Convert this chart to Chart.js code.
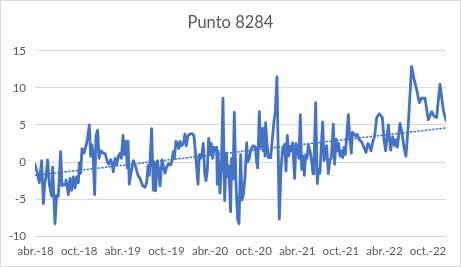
<!DOCTYPE html>
<html>
<head>
<meta charset="utf-8">
<script src="https://cdn.jsdelivr.net/npm/chart.js@4"></script>
<style>
  html, body { margin: 0; padding: 0; background: #fff; }
  #wrap { width: 461px; height: 267px; }
</style>
</head>
<body>
<div id="wrap"><canvas id="punto"></canvas></div>
<script>
// months counted from abr.-18
var months = [-0.09,0.23,0.50,0.69,0.83,1.06,1.24,1.42,1.65,1.88,2.20,2.34,2.66,2.89,3.12,3.44,3.62,3.81,4.04,4.17,
  4.36,4.50,4.72,4.95,5.18,5.41,5.64,5.87,6.01,6.19,6.38,6.65,6.93,7.11,7.39,7.57,7.75,7.89,8.12,8.30,
  8.53,8.72,8.94,9.31,9.59,9.86,10.05,10.32,10.50,10.69,10.92,11.15,11.38,11.61,11.79,12.02,12.20,12.43,12.61,12.71,
  12.89,13.07,13.44,13.72,14.08,14.36,14.72,15.05,15.28,15.46,15.64,15.96,16.19,16.33,16.51,16.74,16.93,17.11,17.39,17.57,
  17.80,18.03,18.30,18.58,18.76,18.94,19.08,19.31,19.50,19.68,19.86,20.09,20.32,20.55,20.73,20.96,21.24,21.61,21.79,22.06,
  22.34,22.52,22.71,22.89,23.07,23.26,23.44,23.62,23.81,23.99,24.17,24.36,24.54,24.72,24.91,25.00,25.09,25.37,25.55,25.78,
  26.01,26.24,26.42,26.56,26.83,26.97,27.16,27.34,27.57,27.80,27.98,28.21,28.39,28.58,28.81,29.04,29.17,29.40,29.59,29.77,
  29.95,30.23,30.41,30.55,30.78,30.96,31.15,31.33,31.47,31.56,31.65,31.79,32.02,32.34,32.61,32.80,32.98,33.21,33.53,33.76,
  33.99,34.27,34.45,34.63,34.82,35.00,35.18,35.37,35.64,35.83,36.06,36.24,36.42,36.61,36.79,36.97,37.16,37.34,37.52,37.75,
  37.98,38.17,38.30,38.53,38.76,38.94,39.13,39.27,39.50,39.68,39.86,40.05,40.28,40.50,40.69,40.96,41.15,41.33,41.51,41.70,
  41.88,42.06,42.25,42.43,42.61,42.80,43.03,43.21,43.44,43.58,43.81,44.04,44.27,44.54,44.86,45.18,45.46,45.73,45.92,46.15,
  46.38,46.65,46.93,47.29,47.71,47.94,48.17,48.53,48.85,49.13,49.40,49.59,49.77,50.14,50.37,50.69,50.96,51.28,51.51,51.74,
  52.11,52.43,52.80,53.12,53.58,54.04,54.50,54.82,55.18,55.64,56.10,56.47];

var values = [-0.3,-1.5,-2.8,-1.0,0.2,-5.6,-3.0,-2.0,0.3,-3.0,-4.6,-0.7,-8.3,-4.5,-4.6,1.4,-3.2,-3.0,-3.1,-2.4,
  -3.4,-4.4,-2.2,-3.8,-2.0,-3.5,-2.0,-2.8,-0.1,-1.5,1.8,1.2,2.2,3.0,5.0,0.8,2.3,1.2,-4.4,3.5,
  4.3,0.5,1.5,1.2,1.1,0.0,-0.3,0.3,-0.2,-1.3,0.5,-0.3,0.8,1.2,0.5,3.6,1.0,2.8,-0.8,2.8,
  -3.0,-1.8,0.2,-0.5,-1.8,-2.2,-3.2,-3.4,-2.8,-0.5,-1.8,4.5,-3.8,0.0,-3.9,0.2,-1.0,-3.2,0.3,-0.5,
  -1.5,-0.7,-0.2,-0.4,0.2,1.4,0.5,2.8,2.5,1.8,2.8,2.2,2.5,3.8,2.2,3.5,3.8,3.8,3.5,0.5,
  -3.0,1.0,0.5,1.2,2.5,-1.5,-2.5,-1.2,3.2,1.0,2.5,0.5,2.0,1.5,2.0,-3.0,1.5,-4.2,-1.0,8.6,
  -5.2,1.2,-2.0,-0.5,-6.7,0.5,-2.3,6.7,-3.0,-7.8,-8.3,1.0,-5.1,-4.5,-2.0,2.6,0.0,0.5,1.5,2.0,
  2.2,2.0,0.0,-0.8,6.8,2.0,4.5,1.5,4.6,0.8,5.3,3.0,0.6,0.6,3.5,5.5,6.8,11.5,-7.7,-1.0,
  1.8,2.4,-1.2,3.6,0.8,2.0,1.5,2.6,-2.2,2.5,1.5,0.5,6.4,-1.0,0.8,-1.8,1.0,0.5,2.3,1.5,
  0.2,-1.6,-0.5,8.0,-2.9,-1.0,-1.5,1.5,5.4,0.2,0.8,2.2,-1.6,0.3,0.5,5.1,-0.3,3.1,1.5,2.5,
  0.8,1.5,0.6,2.0,1.0,3.3,6.4,3.5,1.2,4.0,3.8,3.5,3.7,3.0,2.7,2.0,1.3,2.5,2.2,1.5,
  2.7,3.5,6.0,6.5,6.0,3.0,1.5,5.0,1.6,3.4,2.2,3.0,2.0,5.2,4.2,2.0,0.8,5.0,9.0,12.9,
  11.0,9.8,8.0,8.6,8.6,5.7,6.8,6.2,6.0,10.5,7.0,5.6];

// linear trend, ends
var trendMonths = [-0.09, 56.47];
var trendValues = [-1.8, 4.6];

var tickMonths = [0,6,12,18,24,30,36,42,48,54];
var tickLabels = ["abr.-18","oct.-18","abr.-19","oct.-19","abr.-20","oct.-20","abr.-21","oct.-21","abr.-22","oct.-22"];

var blue = "#4472C4";
var grey = "#595959";

var frame = {
  id: "frame",
  beforeDraw: function(chart){
    var c = chart.ctx;
    c.save();
    c.fillStyle = "#fff";
    c.fillRect(0,0,chart.width,chart.height);
    c.strokeStyle = "#d9d9d9";
    c.lineWidth = 1;
    c.strokeRect(0.5,0.5,chart.width-1,chart.height-1);
    c.restore();
  }
};

var pts = months.map(function(m,i){ return {x:m, y:values[i]}; });
var trendPts = trendMonths.map(function(m,i){ return {x:m, y:trendValues[i]}; });

new Chart(document.getElementById("punto"), {
  type: "line",
  data: {
    datasets: [{
      data: pts,
      borderColor: blue,
      borderWidth: 2.8,
      borderJoinStyle: "round",
      borderCapStyle: "round",
      pointRadius: 0,
      tension: 0,
      fill: false
    }, {
      data: trendPts,
      borderColor: blue,
      borderWidth: 1.5,
      borderDash: [2.5, 1.2],
      pointRadius: 0,
      fill: false
    }]
  },
  options: {
    responsive: true,
    maintainAspectRatio: false,
    animation: false,
    layout: { padding: { left: 0, right: 0, top: 0, bottom: 1 } },
    plugins: {
      legend: { display: false },
      tooltip: { enabled: false },
      title: {
        display: true,
        text: "Punto 8284",
        color: grey,
        font: { family: "Lato", size: 16.5, weight: "normal" },
        padding: { top: 13, bottom: 18 }
      }
    },
    scales: {
      x: {
        type: "linear",
        min: trendMonths[0],
        max: trendMonths[1],
        afterBuildTicks: function(s){ s.ticks = tickMonths.map(function(v){ return {value:v}; }); },
        grid: { display: false, drawTicks: false },
        border: { display: false },
        ticks: {
          autoSkip: false,
          maxRotation: 0,
          padding: 8,
          color: grey,
          font: { family: "Lato", size: 11.5 },
          callback: function(v, i){ return tickLabels[i]; }
        }
      },
      y: {
        min: -10,
        max: 15,
        afterFit: function(s){ s.width = 35; },
        grid: { color: "#d9d9d9", lineWidth: 1, drawTicks: false },
        border: { display: false },
        ticks: {
          stepSize: 5,
          padding: 9,
          color: grey,
          font: { family: "Lato", size: 11.5 }
        }
      },
      // empty right margin so the title centres on the whole picture
      pad: {
        position: "right",
        min: -10,
        max: 15,
        afterFit: function(s){ s.width = 15; },
        grid: { display: false, drawTicks: false },
        border: { display: false },
        ticks: { display: false }
      }
    }
  },
  plugins: [frame]
});
</script>
</body>
</html>
